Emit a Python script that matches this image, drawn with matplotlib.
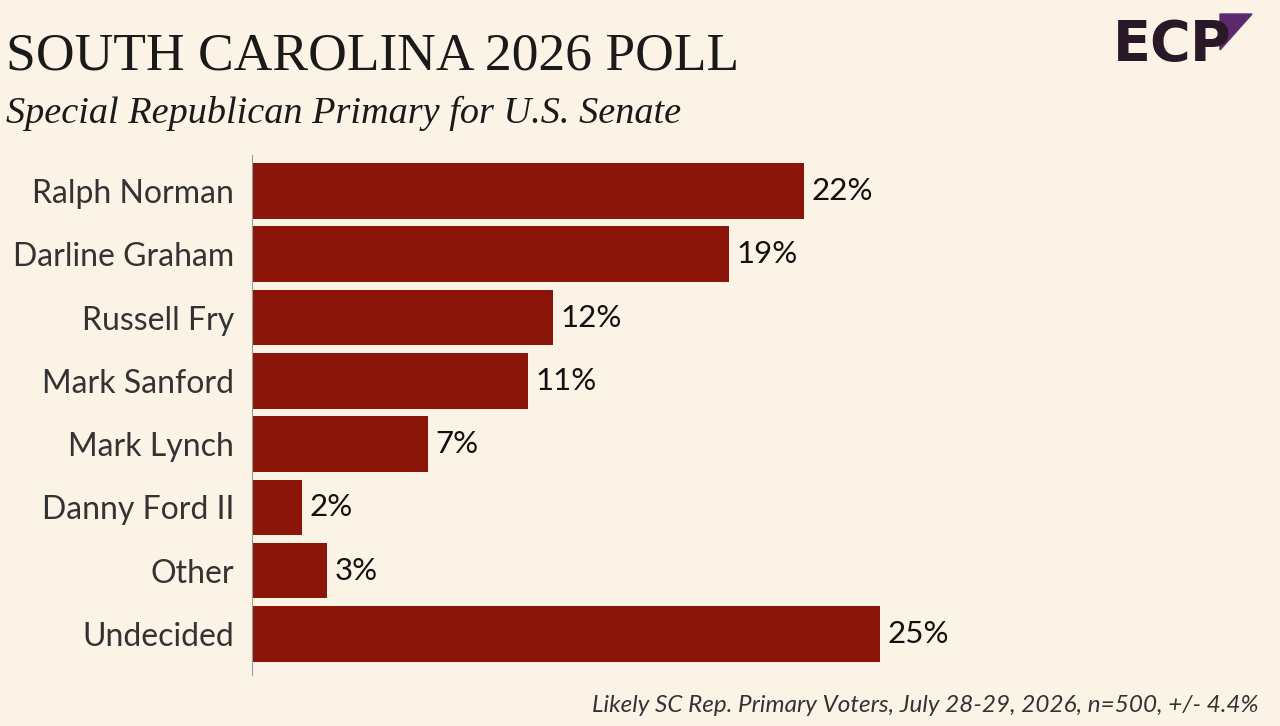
import matplotlib
matplotlib.use("Agg")
import matplotlib.pyplot as plt
from matplotlib.patches import Polygon

candidates = ["Ralph Norman", "Darline Graham", "Russell Fry", "Mark Sanford",
              "Mark Lynch", "Danny Ford II", "Other", "Undecided"]
values = [22, 19, 12, 11, 7, 2, 3, 25]

bg = "#FCF3E7"
bar_c = "#8B1508"
fig = plt.figure(figsize=(12.8, 7.26), dpi=100, facecolor=bg)
ax = fig.add_axes([252/1280, 1-675/726, 1-252/1280, 520/726], facecolor=bg)
y = list(range(len(candidates)))
ax.barh(y, values, height=0.88, color=bar_c)
ax.set_ylim(7.65, -0.57)
ax.set_xlim(0, 1028/25.1)
for yi, v in zip(y, values):
    ax.text(v + 0.3, yi, f"{v}%", va="center", ha="left", fontsize=22.5, color="#111", family="Lato")
ax.set_yticks(y)
ax.set_yticklabels(candidates, fontsize=23, color="#333", family="Lato")
ax.tick_params(axis="y", length=0, pad=13)
ax.set_xticks([])
for s in ["top", "right", "bottom"]:
    ax.spines[s].set_visible(False)
ax.spines["left"].set_color("#999")

fig.text(6/1280, 1-57/726, "SOUTH CAROLINA 2026 POLL", family="Liberation Serif",
         fontsize=38.5, color="#1a1a1a", va="center")
fig.text(6/1280, 1-113/726, "Special Republican Primary for U.S. Senate", family="Liberation Serif",
         style="italic", fontsize=27.5, color="#1a1a1a", va="center")
fig.text(1258/1280, 1-706/726, "Likely SC Rep. Primary Voters, July 28-29, 2026, n=500, +/- 4.4%",
         style="italic", fontsize=17.5, color="#333", ha="right", va="center", family="Lato")
fig.text(1113/1280, 1-45/726, "EC", fontsize=40, weight="bold", color="#2A1828",
         va="center", ha="left", family="DejaVu Sans")
fig.text(1190/1280, 1-45/726, "P", fontsize=40, weight="bold", color="#2A1828",
         va="center", ha="left", family="DejaVu Sans")
fig.patches.append(Polygon([[1220/1280, 1-14/726], [1252/1280, 1-14/726], [1220/1280, 1-50/726]],
                           closed=True, transform=fig.transFigure, color="#5B2A6E"))
fig.savefig("out.png", dpi=100, facecolor=bg)
